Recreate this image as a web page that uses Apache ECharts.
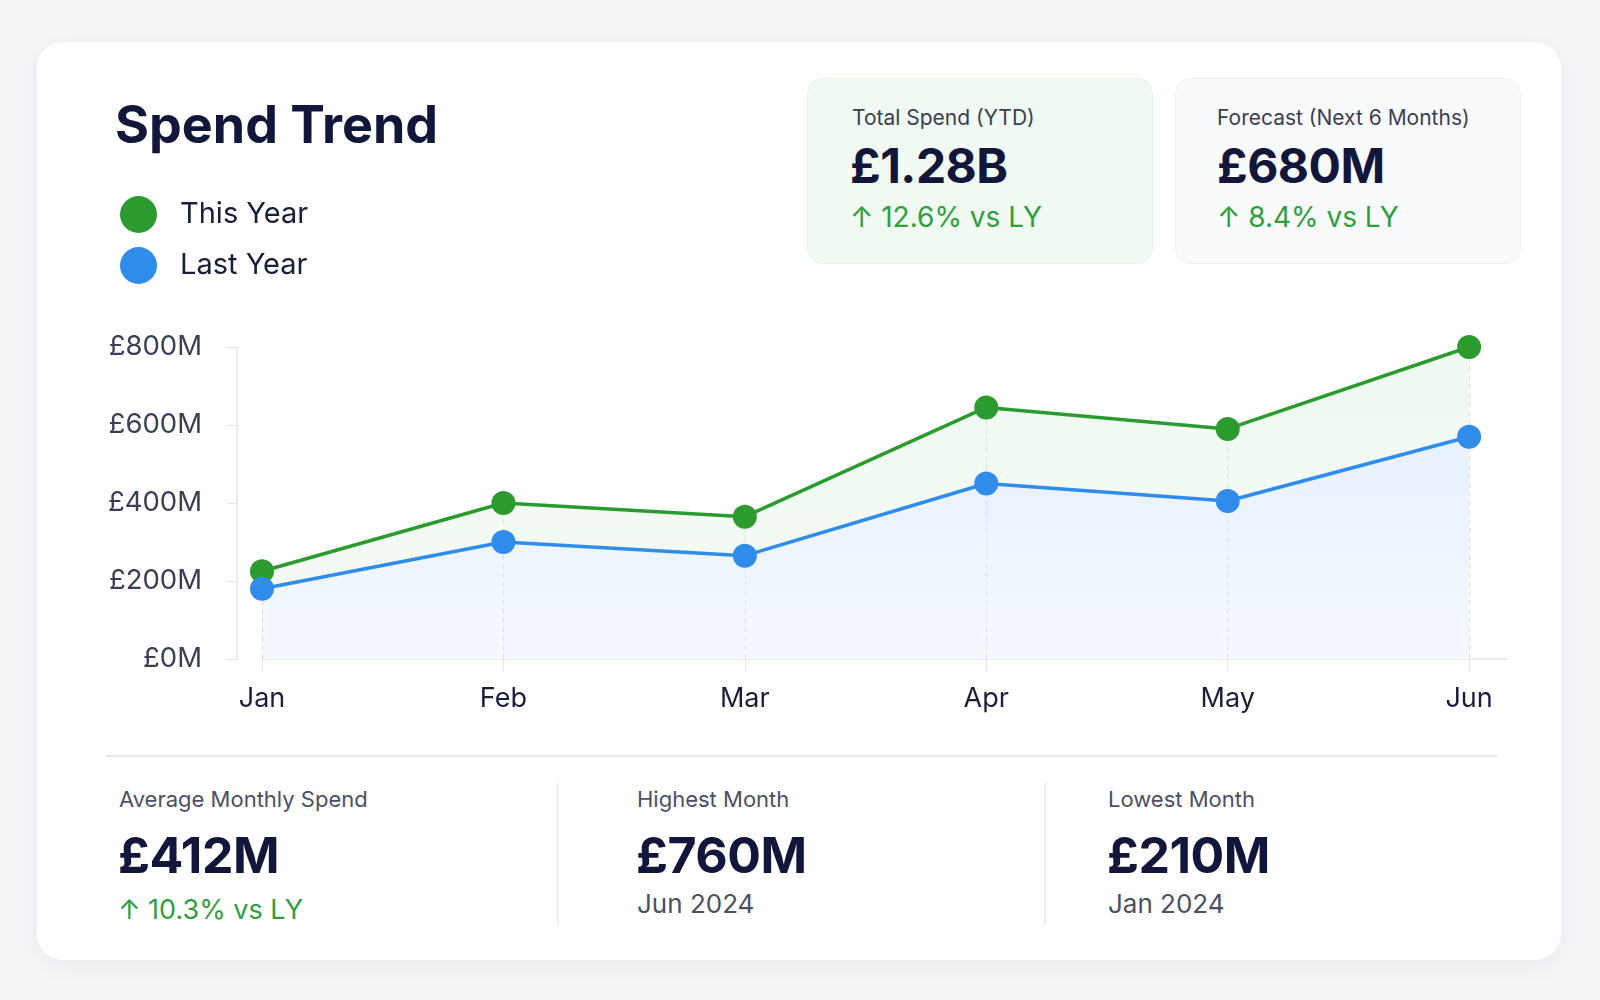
<!DOCTYPE html>
<html>
<head>
<meta charset="utf-8">
<script src="https://cdn.jsdelivr.net/npm/echarts@6.0.0/dist/echarts.min.js"></script>
<style>
  html, body { margin: 0; padding: 0; }
  body { width: 1600px; height: 1000px; background: #f4f5f7; position: relative; overflow: hidden;
         font-family: Inter, "Noto Sans", sans-serif; color: #12163a; }
  .card { position: absolute; left: 37px; top: 42px; width: 1524px; height: 918px; background: #fff;
          border-radius: 26px; box-shadow: 0 6px 24px rgba(20, 30, 60, 0.05); }
  #main { position: absolute; left: 0; top: 0; width: 1600px; height: 1000px; }
  .t { position: absolute; white-space: nowrap; line-height: 1; }
  .kpi { position: absolute; top: 78px; width: 346px; height: 186px; border-radius: 16px; box-sizing: border-box; }
  .lab { font-size: 21px; color: #3a3f52; }
  .big { font-size: 48px; font-weight: 700; color: #12163a; letter-spacing: -0.5px; }
  .up { font-size: 28px; color: #2f9e3f; }
  .blab { font-size: 22px; color: #4b5063; }
  .bbig { font-size: 50px; font-weight: 700; color: #12163a; letter-spacing: -0.5px; }
  .sub { font-size: 26px; color: #4b5063; }
  .hr { position: absolute; left: 106px; top: 755px; width: 1391px; height: 2px; background: #e8eaee; }
  .vr { position: absolute; top: 783px; width: 2px; height: 142px; background: #eceef1; }
</style>
</head>
<body>
<div class="card"></div>

<div class="kpi" style="left:807px;background:#f0f9f2;border:1px solid #e7f3ea;"></div>
<div class="kpi" style="left:1175px;background:#f9fafb;border:1px solid #eff1f4;"></div>

<div class="t lab" style="left:852px;top:107px;">Total Spend (YTD)</div>
<div class="t big" style="left:850px;top:142px;">£1.28B</div>
<div class="t up" style="left:850px;top:203px;">↑ 12.6% vs LY</div>

<div class="t lab" style="left:1217px;top:107px;">Forecast (Next 6 Months)</div>
<div class="t big" style="left:1217px;top:142px;">£680M</div>
<div class="t up" style="left:1217px;top:203px;">↑ 8.4% vs LY</div>

<div class="hr"></div>
<div class="vr" style="left:557px;"></div>
<div class="vr" style="left:1044px;"></div>

<div class="t blab" style="left:119px;top:788px;">Average Monthly Spend</div>
<div class="t bbig" style="left:118px;top:830px;">£412M</div>
<div class="t up" style="left:118px;top:896px;font-size:27px;">↑ 10.3% vs LY</div>

<div class="t blab" style="left:637px;top:788px;">Highest Month</div>
<div class="t bbig" style="left:636px;top:830px;">£760M</div>
<div class="t sub" style="left:637px;top:891px;">Jun 2024</div>

<div class="t blab" style="left:1108px;top:788px;">Lowest Month</div>
<div class="t bbig" style="left:1107px;top:830px;">£210M</div>
<div class="t sub" style="left:1108px;top:891px;">Jan 2024</div>

<div id="main"></div>

<script>
var months = ['Jan', 'Feb', 'Mar', 'Apr', 'May', 'Jun'];
var thisYear = [225, 400, 365, 645, 590, 800];
var lastYear = [180, 300, 265, 450, 405, 570];
var yTicks = [0, 200, 400, 600, 800];

var green = '#2b9b30';
var blue = '#2f8ceb';

function pairs(vals) {
  var out = [];
  for (var i = 0; i < vals.length; i++) out.push([i, vals[i]]);
  return out;
}

// dashed drop lines from each top point down to the axis
var drops = [];
for (var i = 0; i < months.length; i++) {
  drops.push([{ coord: [i, 0] }, { coord: [i, thisYear[i]] }]);
}

var myChart = echarts.init(document.getElementById('main'), null, { renderer: 'canvas' });

var option = {
  backgroundColor: 'transparent',
  animation: false,
  title: {
    text: 'Spend Trend',
    left: 110,
    top: 96,
    textStyle: { fontFamily: 'Inter', fontSize: 52, fontWeight: 700, color: '#12163a', lineHeight: 52 }
  },
  legend: {
    orient: 'vertical',
    left: 115,
    top: 191,
    icon: 'circle',
    itemWidth: 37,
    itemHeight: 37,
    itemGap: 14,
    textStyle: { fontFamily: 'Inter', fontSize: 29, color: '#1a1e38', padding: [0, 0, 0, 18] },
    data: ['This Year', 'Last Year']
  },
  grid: { left: 262, right: 93, top: 347, bottom: 341 },
  xAxis: {
    type: 'value',
    min: 0,
    max: 5.157,
    interval: 1,
    splitLine: { show: false },
    axisLine: { show: true, onZero: false, lineStyle: { color: '#e9ebef', width: 2 } },
    axisTick: { show: true, length: 12, customValues: [0, 1, 2, 3, 4, 5], lineStyle: { color: '#e4e6ea', width: 1 } },
    axisLabel: {
      customValues: [0, 1, 2, 3, 4, 5],
      margin: 26,
      fontFamily: 'Inter', fontSize: 27, color: '#1a1e38',
      formatter: function (v) { return months[Math.round(v)]; }
    }
  },
  yAxis: {
    type: 'value',
    min: yTicks[0],
    max: yTicks[yTicks.length - 1],
    interval: 200,
    offset: 25,
    splitLine: { show: false },
    axisLine: { show: true, onZero: false, lineStyle: { color: '#e9ebef', width: 2 } },
    axisTick: { show: true, length: 10, lineStyle: { color: '#e4e6ea', width: 1 } },
    axisLabel: {
      margin: 35,
      fontFamily: 'Inter', fontSize: 27.5, color: '#3a3f55',
      formatter: function (v) { return '£' + v + 'M'; }
    }
  },
  series: [
    {
      name: 'thisArea',
      type: 'line',
      data: pairs(thisYear),
      z: 1,
      symbol: 'none',
      silent: true,
      lineStyle: { width: 0 },
      areaStyle: {
        opacity: 1,
        color: new echarts.graphic.LinearGradient(0, 0, 0, 1, [
          { offset: 0, color: '#eef9f0' },
          { offset: 1, color: '#f6fbf7' }
        ])
      }
    },
    {
      name: 'lastArea',
      type: 'line',
      data: pairs(lastYear),
      z: 2,
      symbol: 'none',
      silent: true,
      lineStyle: { width: 0 },
      areaStyle: {
        opacity: 1,
        color: new echarts.graphic.LinearGradient(0, 0, 0, 1, [
          { offset: 0, color: '#e7f1fd' },
          { offset: 1, color: '#f4f9fe' }
        ])
      },
      markLine: {
        silent: true,
        symbol: 'none',
        label: { show: false },
        lineStyle: { color: '#dcdfe4', width: 1, type: [5, 4] },
        data: drops
      }
    },
    {
      name: 'This Year',
      type: 'line',
      data: pairs(thisYear),
      z: 10,
      symbol: 'circle',
      symbolSize: 24,
      itemStyle: { color: green },
      lineStyle: { color: green, width: 3.5 }
    },
    {
      name: 'Last Year',
      type: 'line',
      data: pairs(lastYear),
      z: 11,
      symbol: 'circle',
      symbolSize: 24,
      itemStyle: { color: blue },
      lineStyle: { color: blue, width: 3.5 }
    }
  ]
};

myChart.setOption(option);
</script>
</body>
</html>
